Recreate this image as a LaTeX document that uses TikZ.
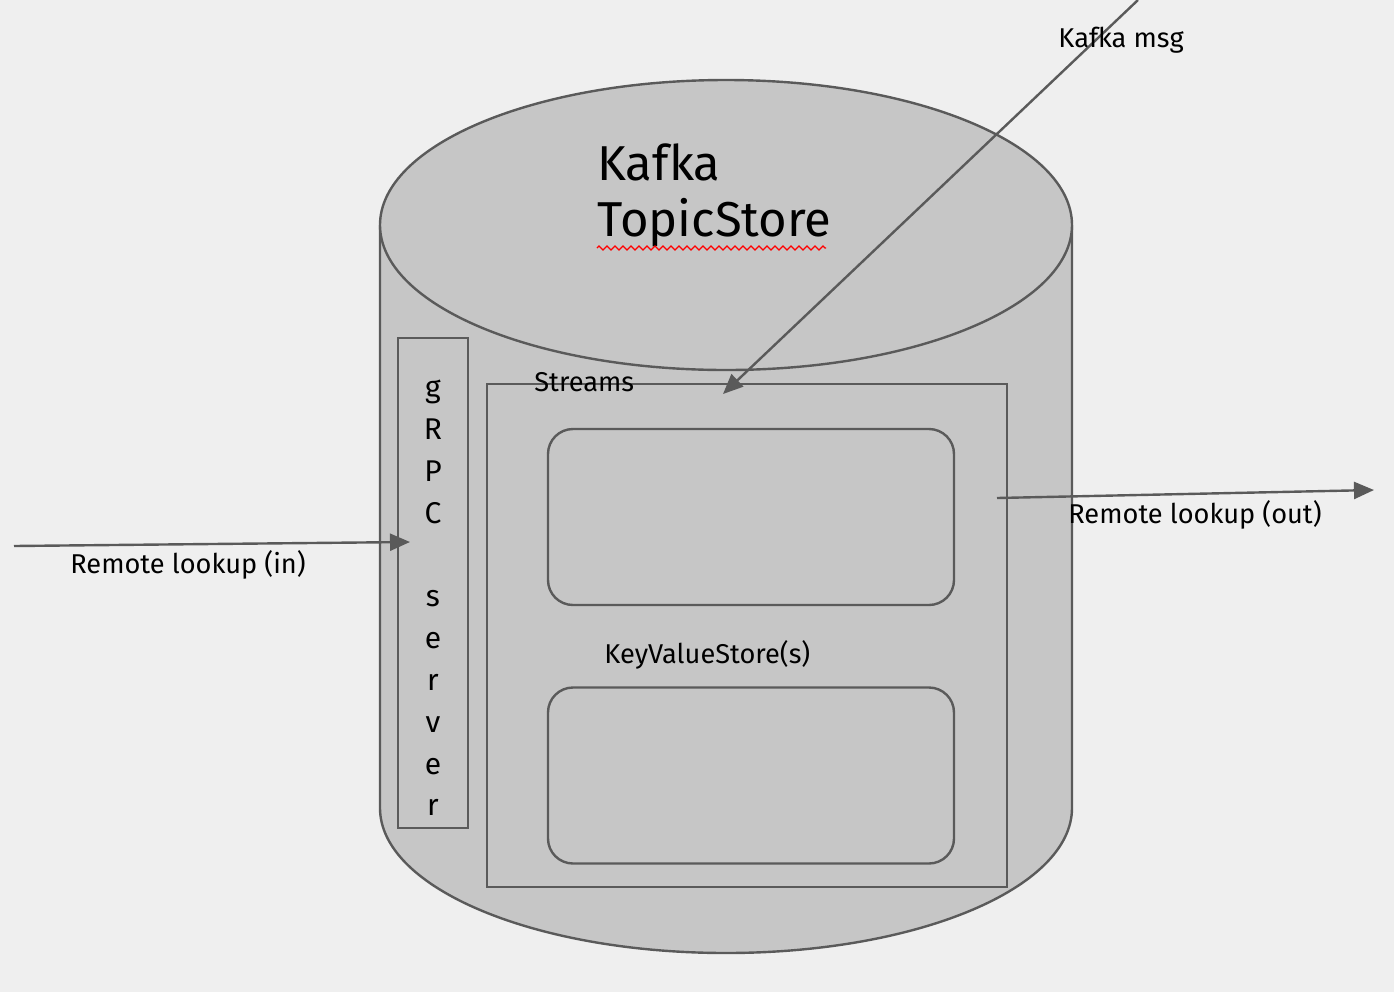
\documentclass[tikz,border=0pt]{standalone}
\usepackage{fontspec}
\setmainfont{Fira Sans}
\usetikzlibrary{arrows.meta,decorations.pathmorphing}
\definecolor{bgc}{HTML}{EFEFEF}
\definecolor{cylfill}{HTML}{C6C6C6}
\definecolor{edgec}{HTML}{5A5A5A}
\begin{document}
\begin{tikzpicture}[x=0.5pt,y=0.5pt,
  outline/.style={draw=edgec,line width=1.2pt},
  boxnode/.style={outline,fill=cylfill,inner sep=0pt,rectangle},
  kvbox/.style={boxnode,rounded corners=12.5pt,minimum width=203pt,minimum height=88pt},
  lbl/.style={inner sep=0pt,anchor=base west,font=\fontsize{13.6}{16}\selectfont},
  conn/.style={draw=edgec,line width=1.2pt,-{Triangle[length=10pt,width=8.5pt]}}]
\fill[bgc] (0,0) rectangle (1394,-992);
\useasboundingbox (0,0) rectangle (1394,-992);
% cylinder
\fill[cylfill] (380,-225) -- (380,-808) arc[start angle=180,end angle=360,x radius=346,y radius=145] -- (1072,-225) -- cycle;
\draw[outline] (380,-225) -- (380,-808) arc[start angle=180,end angle=360,x radius=346,y radius=145] -- (1072,-225);
\filldraw[outline,fill=cylfill] (726,-225) ellipse [x radius=346,y radius=145];
% title
\node[lbl,font=\fontsize{24.5}{28.5}\selectfont] (kafka) at (597,-180) {Kafka};
\node[lbl,font=\fontsize{24.5}{28.5}\selectfont] (topicstore) at (597,-236) {TopicStore};
\draw[red,line width=0.6pt,decorate,decoration={zigzag,segment length=4pt,amplitude=1pt}] (597,-248) -- (826,-248);
% boxes
\node[boxnode,minimum width=35pt,minimum height=245pt] (grpc) at (433,-583) {};
\node[font=\fontsize{15}{20.9}\selectfont,align=center,inner sep=0pt] (grpctext) at (433,-598) {g\\R\\P\\C\\\mbox{}\\s\\e\\r\\v\\e\\r};
\node[boxnode,minimum width=260pt,minimum height=251.5pt] (streams) at (747,-635.5) {};
\node[kvbox] (kv1) at (751,-517) {};
\node[kvbox] (kv2) at (751,-775.5) {};
\node[lbl] (streamslbl) at (534,-391) {Streams};
\node[lbl] (kvlbl) at (604,-663) {KeyValueStore(s)};
% connectors
\coordinate (msgstart) at (1138,0);
\coordinate (msgend) at (723,-394);
\coordinate (instart) at (14,-546);
\coordinate (inend) at (410,-542);
\coordinate (outstart) at (997,-498);
\coordinate (outend) at (1374,-490);
\draw[conn] (msgstart) -- (msgend);
\draw[conn] (instart) -- (inend);
\draw[conn] (outstart) -- (outend);
\node[lbl] (msglbl) at (1058,-47) {Kafka msg};
\node[lbl] (inlbl) at (70,-573) {Remote lookup (in)};
\node[lbl] (outlbl) at (1068,-523) {Remote lookup (out)};
\end{tikzpicture}
\end{document}
